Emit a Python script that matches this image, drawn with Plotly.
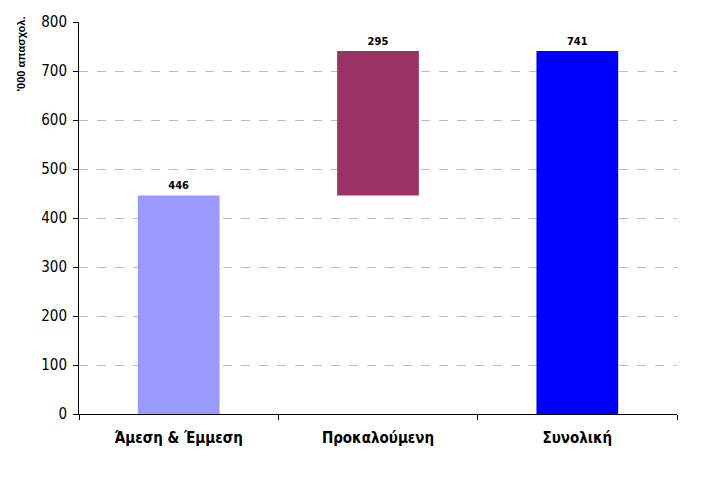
import plotly.graph_objects as go

categories = ["Άμεση & Έμμεση", "Προκαλούμενη", "Συνολική"]
values = [446, 295, 741]
bases = [0, 446, 0]
colors = ["#9999FF", "#993366", "#0000FF"]

FONT = "DejaVu Sans Condensed, DejaVu Sans"

fig = go.Figure()
fig.add_trace(go.Bar(
    x=categories, y=values, base=bases,
    marker=dict(color=colors, line=dict(width=0)),
    width=0.41,
    text=[str(v) for v in values],
    textposition="outside",
    textfont=dict(family=FONT, size=11, color="black", weight="bold"),
    cliponaxis=False,
))

# y-axis title placed as annotation (top-aligned like the original)
fig.add_annotation(
    text="'000 απασχολ.", textangle=-90,
    xref="paper", yref="paper", x=0, y=1,
    xanchor="center", yanchor="top", xshift=-59, yshift=7,
    showarrow=False,
    font=dict(family="Liberation Sans", size=11, color="black", weight="bold"),
)

fig.update_layout(
    width=716, height=482,
    margin=dict(l=71, r=47, t=14, b=76),
    plot_bgcolor="white", paper_bgcolor="white",
    showlegend=False,
    font=dict(family=FONT, color="black"),
)
fig.update_yaxes(
    range=[0, 800], dtick=100,
    showgrid=True, gridcolor="#BBBBBB", griddash="dash", gridwidth=1,
    showline=True, linecolor="black", linewidth=1,
    ticks="outside", ticklen=5, tickcolor="black",
    tickfont=dict(size=15, family=FONT),
    ticklabelstandoff=3,
    zeroline=False, automargin=False,
)
fig.update_xaxes(
    showline=True, linecolor="black", linewidth=1,
    ticks="outside", ticklen=5, tickcolor="black", tickson="boundaries",
    tickfont=dict(size=15, family=FONT, weight="bold"),
    ticklabelstandoff=10,
    automargin=False,
)

fig.write_html("out.html")
